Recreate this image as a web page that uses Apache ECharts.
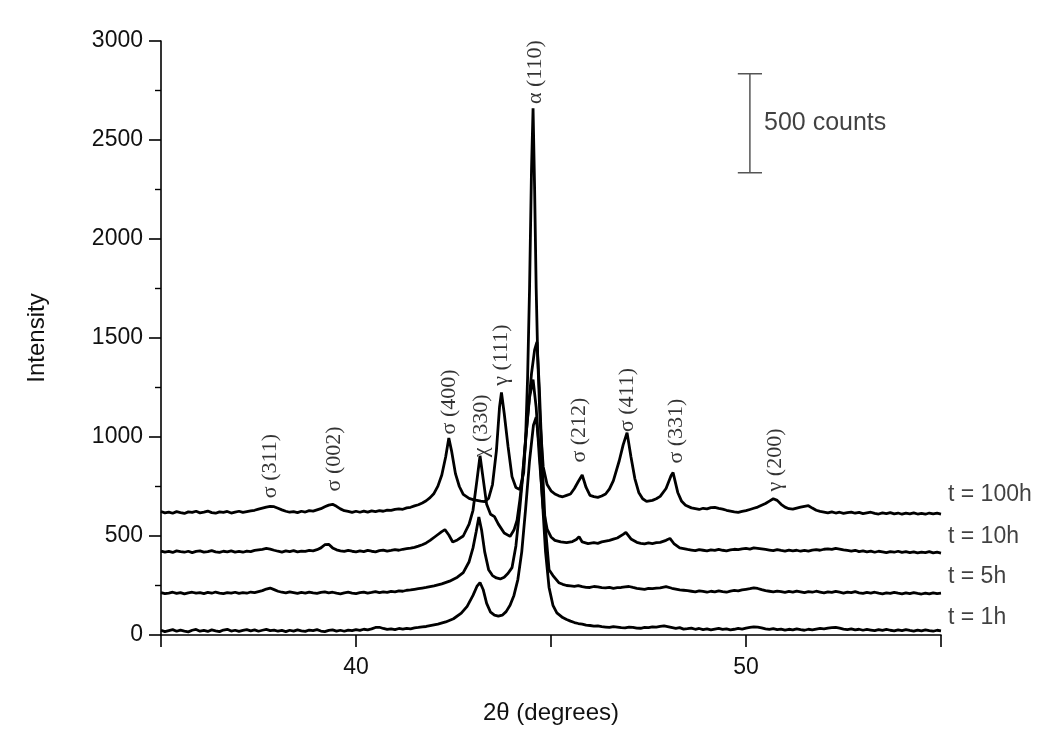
<!DOCTYPE html>
<html>
<head>
<meta charset="utf-8">
<script src="https://cdn.jsdelivr.net/npm/echarts@6/dist/echarts.min.js"></script>
<style>
html,body{margin:0;padding:0;background:#fff;}
#chart{width:1061px;height:731px;}
</style>
</head>
<body>
<div id="chart"></div>
<script>
// ---- data (2theta, intensity) ----
const trace100h = [[35.0,624],[35.1,617],[35.2,621],[35.3,615],[35.4,623],[35.5,618],[35.6,614],[35.7,622],[35.8,619],[35.9,625],[36.0,617],[36.1,621],[36.2,626],[36.3,618],[36.4,615],[36.5,622],[36.6,619],[36.7,624],[36.8,616],[36.9,621],[37.0,625],[37.1,619],[37.2,623],[37.3,627],[37.4,630],[37.5,636],[37.6,641],[37.7,646],[37.8,650],[37.9,648],[38.0,640],[38.1,632],[38.2,625],[38.3,620],[38.4,623],[38.5,618],[38.6,625],[38.7,621],[38.8,628],[38.9,626],[39.0,632],[39.1,638],[39.2,648],[39.3,656],[39.4,660],[39.5,650],[39.6,637],[39.7,628],[39.8,624],[39.9,619],[40.0,625],[40.1,620],[40.2,626],[40.3,621],[40.4,627],[40.5,623],[40.6,628],[40.7,625],[40.8,631],[40.9,629],[41.0,634],[41.1,637],[41.2,635],[41.3,642],[41.4,645],[41.5,652],[41.6,658],[41.7,667],[41.8,678],[41.9,694],[42.0,715],[42.1,752],[42.2,808],[42.3,900],[42.38,995],[42.45,930],[42.55,815],[42.65,750],[42.75,710],[42.9,690],[43.0,684],[43.1,680],[43.2,676],[43.3,674],[43.4,690],[43.5,760],[43.6,930],[43.68,1150],[43.73,1225],[43.8,1120],[43.9,950],[44.0,800],[44.1,745],[44.2,735],[44.3,820],[44.35,1000],[44.4,1300],[44.45,1750],[44.5,2350],[44.54,2660],[44.58,2250],[44.62,1750],[44.66,1400],[44.72,1080],[44.8,850],[44.9,760],[45.0,728],[45.1,712],[45.2,703],[45.3,698],[45.4,705],[45.5,712],[45.6,740],[45.7,775],[45.8,808],[45.9,745],[46.0,705],[46.1,699],[46.2,695],[46.3,702],[46.4,712],[46.5,738],[46.6,780],[46.75,880],[46.85,960],[46.95,1022],[47.05,900],[47.15,790],[47.25,720],[47.35,688],[47.45,675],[47.6,680],[47.7,688],[47.8,700],[47.95,740],[48.08,805],[48.13,820],[48.25,720],[48.35,675],[48.45,655],[48.6,642],[48.7,638],[48.8,634],[48.9,640],[49.0,637],[49.1,643],[49.2,645],[49.3,640],[49.4,636],[49.5,630],[49.6,626],[49.7,622],[49.8,619],[49.9,624],[50.0,628],[50.1,634],[50.2,640],[50.3,646],[50.4,655],[50.5,664],[50.6,676],[50.7,688],[50.75,692],[50.8,680],[50.9,660],[51.0,646],[51.1,638],[51.2,636],[51.3,641],[51.4,646],[51.5,650],[51.6,653],[51.7,641],[51.8,630],[51.9,624],[52.0,621],[52.1,617],[52.2,622],[52.3,616],[52.4,620],[52.5,614],[52.6,618],[52.7,621],[52.8,615],[52.9,619],[53.0,613],[53.1,617],[53.2,620],[53.3,614],[53.4,611],[53.5,617],[53.6,613],[53.7,618],[53.8,612],[53.9,616],[54.0,610],[54.1,615],[54.2,612],[54.3,617],[54.4,611],[54.5,614],[54.6,610],[54.7,616],[54.8,612],[54.9,615],[55.0,611]];

const trace10h = [[35.0,424],[35.1,419],[35.2,422],[35.3,417],[35.4,425],[35.5,421],[35.6,418],[35.7,423],[35.8,416],[35.9,422],[36.0,425],[36.1,419],[36.2,421],[36.3,426],[36.4,420],[36.5,417],[36.6,423],[36.7,420],[36.8,425],[36.9,419],[37.0,422],[37.1,418],[37.2,424],[37.3,421],[37.4,427],[37.5,430],[37.6,433],[37.7,437],[37.8,434],[37.9,428],[38.0,423],[38.1,419],[38.2,425],[38.3,421],[38.4,426],[38.5,420],[38.6,424],[38.7,422],[38.8,427],[38.9,425],[39.0,431],[39.1,440],[39.2,456],[39.25,466],[39.3,458],[39.4,440],[39.5,430],[39.6,425],[39.7,422],[39.8,427],[39.9,423],[40.0,420],[40.1,425],[40.2,421],[40.3,427],[40.4,423],[40.5,420],[40.6,426],[40.7,429],[40.8,424],[40.9,427],[41.0,431],[41.1,428],[41.2,433],[41.3,436],[41.4,439],[41.5,443],[41.6,449],[41.7,456],[41.8,465],[41.9,478],[42.05,500],[42.2,522],[42.28,532],[42.38,505],[42.48,470],[42.6,480],[42.75,500],[42.9,560],[43.0,630],[43.1,780],[43.18,905],[43.26,790],[43.35,660],[43.45,610],[43.55,598],[43.65,560],[43.8,515],[43.95,498],[44.05,530],[44.13,580],[44.2,680],[44.26,783],[44.35,990],[44.45,1200],[44.54,1290],[44.62,1150],[44.7,900],[44.8,640],[44.9,535],[45.0,495],[45.1,478],[45.25,470],[45.4,466],[45.55,472],[45.65,482],[45.72,497],[45.8,470],[45.95,462],[46.1,466],[46.2,463],[46.3,470],[46.4,474],[46.5,478],[46.6,484],[46.7,490],[46.85,508],[46.92,518],[47.05,485],[47.2,468],[47.3,463],[47.4,460],[47.5,465],[47.6,462],[47.7,466],[47.8,468],[47.95,478],[48.05,488],[48.15,462],[48.3,440],[48.4,436],[48.5,432],[48.6,429],[48.7,426],[48.8,431],[48.9,428],[49.0,425],[49.1,430],[49.2,427],[49.3,432],[49.4,428],[49.5,425],[49.6,430],[49.7,433],[49.8,431],[49.9,435],[50.0,437],[50.1,434],[50.2,440],[50.3,438],[50.4,435],[50.5,432],[50.6,429],[50.7,426],[50.8,431],[50.9,427],[51.0,424],[51.1,429],[51.2,425],[51.3,428],[51.4,423],[51.5,427],[51.6,424],[51.7,429],[51.8,431],[51.9,428],[52.0,433],[52.1,435],[52.2,432],[52.3,437],[52.4,434],[52.5,430],[52.6,427],[52.7,424],[52.8,428],[52.9,421],[53.0,425],[53.1,420],[53.2,424],[53.3,418],[53.4,423],[53.5,420],[53.6,416],[53.7,421],[53.8,418],[53.9,423],[54.0,417],[54.1,421],[54.2,416],[54.3,420],[54.4,415],[54.5,419],[54.6,416],[54.7,421],[54.8,415],[54.9,418],[55.0,414]];

const trace5h = [[35.0,214],[35.1,209],[35.2,212],[35.3,216],[35.4,210],[35.5,214],[35.6,208],[35.7,213],[35.8,216],[35.9,211],[36.0,214],[36.1,209],[36.2,215],[36.3,211],[36.4,217],[36.5,212],[36.6,209],[36.7,214],[36.8,211],[36.9,216],[37.0,210],[37.1,214],[37.2,211],[37.3,217],[37.4,214],[37.5,219],[37.6,224],[37.7,232],[37.8,237],[37.9,229],[38.0,221],[38.1,216],[38.2,213],[38.3,218],[38.4,214],[38.5,210],[38.6,215],[38.7,212],[38.8,217],[38.9,213],[39.0,210],[39.1,215],[39.2,218],[39.3,213],[39.4,216],[39.5,211],[39.6,208],[39.7,213],[39.8,216],[39.9,212],[40.0,209],[40.1,214],[40.2,217],[40.3,212],[40.4,215],[40.5,219],[40.6,214],[40.7,218],[40.8,215],[40.9,220],[41.0,218],[41.1,223],[41.2,221],[41.3,226],[41.4,228],[41.5,231],[41.6,234],[41.7,237],[41.8,240],[42.0,248],[42.2,258],[42.4,272],[42.6,292],[42.75,315],[42.9,370],[43.0,440],[43.08,520],[43.15,596],[43.22,530],[43.3,420],[43.4,330],[43.5,300],[43.6,288],[43.7,283],[43.8,292],[43.9,312],[44.0,340],[44.1,450],[44.2,640],[44.3,860],[44.4,1100],[44.5,1320],[44.58,1440],[44.64,1480],[44.7,1250],[44.78,850],[44.85,560],[44.95,330],[45.05,300],[45.2,264],[45.3,256],[45.4,250],[45.5,248],[45.6,246],[45.7,249],[45.8,244],[45.9,241],[46.0,240],[46.1,245],[46.2,243],[46.3,239],[46.4,238],[46.5,241],[46.6,236],[46.7,239],[46.8,240],[46.9,243],[47.0,245],[47.1,240],[47.2,236],[47.3,233],[47.4,230],[47.5,235],[47.6,234],[47.7,237],[47.8,238],[47.95,244],[48.1,236],[48.3,228],[48.4,226],[48.5,224],[48.6,221],[48.7,218],[48.8,223],[48.9,220],[49.0,216],[49.1,221],[49.2,218],[49.3,223],[49.4,219],[49.5,216],[49.6,222],[49.7,225],[49.8,223],[49.9,228],[50.0,231],[50.1,234],[50.2,238],[50.3,235],[50.4,229],[50.5,224],[50.6,221],[50.7,218],[50.8,222],[50.9,219],[51.0,215],[51.1,220],[51.2,217],[51.3,222],[51.4,218],[51.5,214],[51.6,219],[51.7,216],[51.8,221],[51.9,217],[52.0,213],[52.1,218],[52.2,215],[52.3,220],[52.4,216],[52.5,212],[52.6,217],[52.7,214],[52.8,219],[52.9,213],[53.0,210],[53.1,215],[53.2,212],[53.3,216],[53.4,211],[53.5,208],[53.6,213],[53.7,210],[53.8,215],[53.9,211],[54.0,208],[54.1,213],[54.2,209],[54.3,214],[54.4,210],[54.5,207],[54.6,212],[54.7,208],[54.8,213],[54.9,209],[55.0,211]];

const trace1h = [[35.0,24],[35.1,17],[35.2,22],[35.3,27],[35.4,19],[35.5,25],[35.6,20],[35.7,16],[35.8,24],[35.9,28],[36.0,19],[36.1,23],[36.2,18],[36.3,26],[36.4,21],[36.5,17],[36.6,25],[36.7,29],[36.8,20],[36.9,24],[37.0,18],[37.1,23],[37.2,27],[37.3,21],[37.4,26],[37.5,19],[37.6,24],[37.7,28],[37.8,22],[37.9,25],[38.0,19],[38.1,23],[38.2,17],[38.3,24],[38.4,20],[38.5,26],[38.6,21],[38.7,18],[38.8,25],[38.9,22],[39.0,27],[39.1,20],[39.2,17],[39.3,23],[39.4,26],[39.5,20],[39.6,24],[39.7,19],[39.8,25],[39.9,22],[40.0,27],[40.1,23],[40.2,29],[40.3,26],[40.4,31],[40.5,38],[40.55,42],[40.6,39],[40.7,33],[40.8,28],[40.9,31],[41.0,27],[41.1,33],[41.2,30],[41.3,34],[41.4,31],[41.5,36],[41.6,38],[41.7,41],[41.8,43],[41.9,47],[42.1,55],[42.3,66],[42.5,82],[42.7,110],[42.85,145],[43.0,200],[43.1,245],[43.18,265],[43.26,230],[43.35,160],[43.45,115],[43.55,100],[43.65,95],[43.75,100],[43.85,118],[43.95,150],[44.05,200],[44.15,280],[44.25,420],[44.35,640],[44.45,880],[44.55,1060],[44.62,1100],[44.7,950],[44.78,680],[44.86,420],[44.95,240],[45.05,150],[45.15,112],[45.3,88],[45.4,78],[45.5,70],[45.6,63],[45.7,58],[45.8,55],[45.9,50],[46.0,48],[46.1,45],[46.2,46],[46.3,42],[46.4,40],[46.5,38],[46.6,42],[46.7,40],[46.8,37],[46.9,36],[47.0,40],[47.1,39],[47.2,35],[47.3,34],[47.4,38],[47.5,37],[47.6,41],[47.7,40],[47.8,43],[47.9,46],[48.05,40],[48.2,34],[48.3,37],[48.4,30],[48.5,32],[48.6,35],[48.7,29],[48.8,33],[48.9,27],[49.0,31],[49.1,26],[49.2,30],[49.3,33],[49.4,28],[49.5,31],[49.6,26],[49.7,29],[49.8,33],[49.9,30],[50.0,35],[50.1,38],[50.2,41],[50.3,40],[50.4,36],[50.5,31],[50.6,28],[50.7,32],[50.8,27],[50.9,30],[51.0,25],[51.1,29],[51.2,26],[51.3,31],[51.4,27],[51.5,24],[51.6,29],[51.7,26],[51.8,30],[51.9,33],[52.0,31],[52.1,35],[52.2,37],[52.3,39],[52.4,35],[52.5,30],[52.6,27],[52.7,31],[52.8,26],[52.9,29],[53.0,24],[53.1,28],[53.2,25],[53.3,22],[53.4,27],[53.5,23],[53.6,28],[53.7,24],[53.8,21],[53.9,26],[54.0,22],[54.1,27],[54.2,23],[54.3,20],[54.4,25],[54.5,21],[54.6,26],[54.7,22],[54.8,19],[54.9,24],[55.0,21]];

// peak annotations (text, 2theta, intensity of label centre)
const peakText = ['σ (311)','σ (002)','σ (400)','χ (330)','γ (111)','α (110)','σ (212)','σ (411)','σ (331)','γ (200)'];
const peakX    = [37.79, 39.44, 42.38, 43.21, 43.72, 44.59, 45.72, 46.95, 48.21, 50.74];
const peakY    = [853, 889, 1177, 1056, 1414, 2843, 1035, 1187, 1030, 884];

// trace labels at right end
const traceNames = ['t = 100h','t = 10h','t = 5h','t = 1h'];
const traceLabelY = [707, 495, 293, 86];

// scale bar (500 counts)
const barX = 50.1, barHalfCap = 0.31, barBottom = 2335, barTop = 2835;
const barText = '500 counts';

const xTicks = {min: 35, max: 55, interval: 5, labelled: [40, 50]};
const yTicks = {min: 0, max: 3000, interval: 500};

const SANS = '"Liberation Sans", Arial, sans-serif';
const SERIF = '"Liberation Serif", "Times New Roman", serif';

const chart = echarts.init(document.getElementById('chart'), null, {renderer: 'canvas'});

function traceSeries(data) {
  return {
    type: 'line', data: data, showSymbol: false, symbol: 'none',
    lineStyle: {color: '#000', width: 2.8}, smooth: false, z: 3, silent: true
  };
}

const barData = [
  [barX - barHalfCap, barTop], [barX + barHalfCap, barTop], [barX, '-'],
  [barX, barTop], [barX, barBottom], [barX, '-'],
  [barX - barHalfCap, barBottom], [barX + barHalfCap, barBottom]
];

const option = {
  animation: false,
  backgroundColor: '#fff',
  grid: {left: 161, right: 120, top: 41, bottom: 96, containLabel: false},
  xAxis: {
    type: 'value', min: xTicks.min, max: xTicks.max, interval: xTicks.interval,
    name: '2θ (degrees)', nameLocation: 'middle', nameGap: 66,
    nameTextStyle: {fontFamily: SANS, fontSize: 24, color: '#111'},
    axisLine: {show: true, onZero: false, lineStyle: {color: '#000', width: 1.6}},
    axisTick: {show: true, inside: false, length: 12, lineStyle: {color: '#000', width: 1.6}},
    axisLabel: {
      fontFamily: SANS, fontSize: 23, color: '#111', margin: 21,
      formatter: v => (xTicks.labelled.indexOf(v) >= 0 ? String(v) : '')
    },
    splitLine: {show: false}
  },
  yAxis: {
    type: 'value', min: yTicks.min, max: yTicks.max, interval: yTicks.interval,
    name: 'Intensity', nameLocation: 'middle', nameGap: 112,
    nameTextStyle: {fontFamily: SANS, fontSize: 24, color: '#111'},
    axisLine: {show: true, onZero: false, lineStyle: {color: '#000', width: 1.6}},
    axisTick: {show: true, inside: false, length: 12, lineStyle: {color: '#000', width: 1.6}},
    minorTick: {show: true, splitNumber: 2, length: 6, lineStyle: {color: '#000', width: 1.4}},
    axisLabel: {fontFamily: SANS, fontSize: 23, color: '#111', margin: 18, formatter: v => String(v)},
    splitLine: {show: false}
  },
  series: [
    traceSeries(trace1h),
    traceSeries(trace5h),
    traceSeries(trace10h),
    traceSeries(trace100h),
    {
      type: 'scatter', symbolSize: 0, clip: false, silent: true, z: 5,
      data: peakText.map((t, i) => ({value: [peakX[i], peakY[i]], label: {formatter: t}})),
      label: {show: true, position: 'inside', rotate: 90, fontFamily: SERIF, fontSize: 22, color: '#000'}
    },
    {
      type: 'scatter', symbolSize: 0, clip: false, silent: true, z: 5,
      data: traceNames.map((t, i) => ({value: [xTicks.max, traceLabelY[i]], label: {formatter: t}})),
      label: {show: true, position: 'right', distance: 7, fontFamily: SANS, fontSize: 23, color: '#111'}
    },
    {
      type: 'line', data: barData, showSymbol: false, symbol: 'none', connectNulls: false,
      lineStyle: {color: '#555', width: 1.5}, z: 4, silent: true
    },
    {
      type: 'scatter', symbolSize: 0, clip: false, silent: true, z: 5,
      data: [{value: [barX + barHalfCap, (barTop + barBottom) / 2], label: {formatter: barText}}],
      label: {show: true, position: 'right', distance: 2, fontFamily: SANS, fontSize: 25, color: '#111'}
    }
  ]
};
chart.setOption(option);
</script>
</body>
</html>
